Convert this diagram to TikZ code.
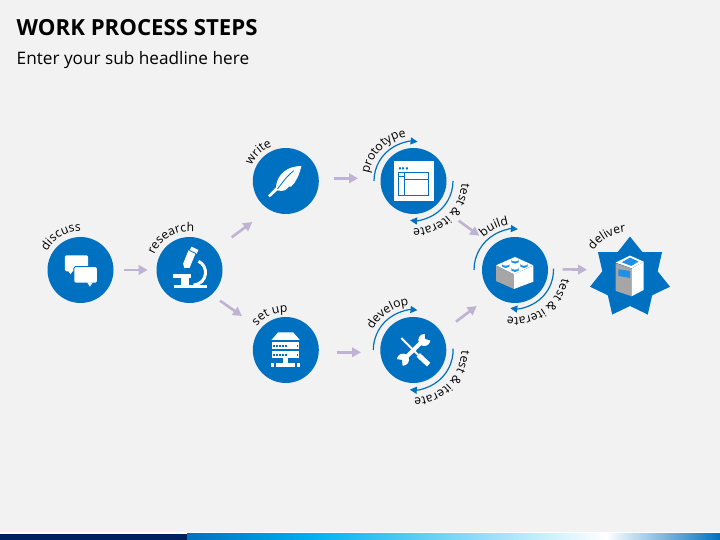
\documentclass[tikz,border=0pt]{standalone}
\usepackage{fontspec}
\setmainfont{Open Sans}
\usetikzlibrary{arrows.meta,shapes.geometric,decorations.text}
\definecolor{bg}{HTML}{F2F2F2}
\definecolor{mainblue}{HTML}{0070C0}
\definecolor{navy}{HTML}{002060}
\definecolor{sky}{HTML}{00B0F0}
\definecolor{lilac}{HTML}{BFB3D3}
\definecolor{stud}{HTML}{1E90E8}
\definecolor{greyface}{HTML}{A6A6A6}
\newcommand{\lblfont}{\fontsize{12.2pt}{14pt}\selectfont}
\newcommand{\arclabel}[5]{\path[decorate,decoration={text along path,text align=center,text={|\lblfont|#5}}] ([shift={(#2:#4)}]#1.center) arc[start angle=#2,end angle=#3,radius=#4];}
\newcommand{\sweeparc}[4]{\draw[sweep] ([shift={(#2:#4)}]#1.center) arc[start angle=#2,end angle=#3,radius=#4];}
\tikzset{
  stepdot/.style={circle,fill=mainblue,minimum size=66pt,inner sep=0pt,draw=none},
  flow/.style={draw=lilac,line width=2.6pt,-{Triangle[length=9pt,width=9.5pt]}},
  sweep/.style={draw=mainblue,line width=1.2pt,-{Triangle[length=7pt,width=7pt]}},
  icon/.style={fill=white,draw=none},
}
\begin{document}
\begin{tikzpicture}[x=1pt,y=1pt]
\useasboundingbox (0,0) rectangle (720,540);
\fill[bg] (0,0) rectangle (720,540);
% bottom band
\fill[white] (0,6.2) rectangle (720,7.6);
\fill[navy] (0,0) rectangle (187,6.4);
\shade[left color=mainblue,right color=sky] (187,0) rectangle (312,6.4);
\shade[left color=sky,right color=white] (312,0) rectangle (606,6.4);
\shade[left color=white,right color=mainblue] (606,0) rectangle (720,6.4);
% titles
\node[anchor=west,inner sep=0pt,font=\fontsize{22.2pt}{26pt}\selectfont\bfseries] (title) at (16.5,512) {WORK PROCESS STEPS};
\node[anchor=west,inner sep=0pt,font=\fontsize{17.2pt}{21pt}\selectfont] (subtitle) at (16.5,480) {Enter your sub headline here};
% nodes
\node[stepdot] (discuss) at (80.5,270) {};
\node[stepdot] (research) at (189.5,270) {};
\node[stepdot] (write) at (285.8,359) {};
\node[stepdot] (prototype) at (413.5,359) {};
\node[stepdot] (setup) at (285.8,190) {};
\node[stepdot] (develop) at (413.3,190) {};
\node[stepdot] (build) at (515,270) {};
\node[star,star points=7,star point ratio=1.445,minimum size=82pt,inner sep=0pt,fill=mainblue] (deliver) at (630,262.4) {};
% connectors
\draw[flow] ([shift={(43.2,0)}]discuss.center) -- ([shift={(-41.8,0)}]research.center);
\draw[flow] ([shift={(42.2,32.7)}]research.center) -- ([shift={(-33.5,-41)}]write.center);
\draw[flow] ([shift={(30.5,-30.7)}]research.center) -- ([shift={(-43.8,34)}]setup.center);
\draw[flow] ([shift={(47.9,2.7)}]write.center) -- ([shift={(-55.5,2.7)}]prototype.center);
\draw[flow] ([shift={(50.9,-2.3)}]setup.center) -- ([shift={(-52.3,-2.3)}]develop.center);
\draw[flow] ([shift={(45.2,-39.7)}]prototype.center) -- ([shift={(-35.7,34.3)}]build.center);
\draw[flow] ([shift={(42.7,28.3)}]develop.center) -- ([shift={(-38.3,-36)}]build.center);
\draw[flow] ([shift={(47.7,0.7)}]build.center) -- ([shift={(-43,7.9)}]deliver.center);
% sweeping arcs
\sweeparc{prototype}{180}{84}{39.5}
\sweeparc{prototype}{0}{-95}{39.5}
\sweeparc{develop}{180}{84}{40}
\sweeparc{develop}{2}{-95}{39.8}
\sweeparc{build}{180}{86}{41}
\sweeparc{build}{2}{-97}{38.5}
% curved labels
\arclabel{discuss}{180}{60}{38.5}{discuss}
\arclabel{research}{190}{50}{38.5}{research}
\arclabel{write}{180}{87}{37.5}{write}
\arclabel{setup}{170}{58}{37.5}{set up}
\arclabel{prototype}{195}{75}{45}{prototype}
\arclabel{develop}{180}{69}{45}{develop}
\arclabel{build}{160}{72}{45.5}{build}
\arclabel{deliver}{172}{67}{45.5}{deliver}
\arclabel{prototype}{30}{-123}{48}{test {\&} iterate}
\arclabel{develop}{30}{-120}{48}{test {\&} iterate}
\arclabel{build}{20}{-130}{47.5}{test {\&} iterate}
% discuss icon
\begin{scope}[shift={(discuss.center)},x=.3333pt,y=-.3333pt,shift={(-152,-209)}]
  \fill[icon,rounded corners=1.5pt] (105,165) rectangle (175,213);
  \fill[icon] (114,210) -- (122,222) -- (130,210) -- cycle;
  \fill[white,draw=mainblue,line width=.9pt,rounded corners=1.5pt] (132,199) rectangle (203,248);
  \fill[icon] (172,246) -- (180,259) -- (189,246) -- cycle;
\end{scope}
% microscope icon
\begin{scope}[shift={(research.center)},x=.3333pt,y=-.3333pt,shift={(-478,-209)}]
  \fill[icon] (432,254) rectangle (530,263);
  \fill[icon] (428,222) rectangle (482,232);
  \fill[icon] (452,232) rectangle (476,255);
  \draw[white,line width=3pt] (505,183) .. controls (535,195) and (535,250) .. (490,254);
  \fill[icon] (475,150) -- (496,160) -- (478,203) -- (462,203) -- (459,190) -- cycle;
  \fill[icon] (484,139) -- (505,149) -- (499,161) -- (478,151) -- cycle;
  \draw[mainblue,line width=.8pt] (478,150) -- (498,160);
\end{scope}
% quill icon
\begin{scope}[shift={(write.center)},x=.3333pt,y=-.3333pt,shift={(-168,-183)}]
  \fill[icon] (215,138) .. controls (175,138) and (142,160) .. (138,203) -- (115,226) -- (120,232) -- (143,211) .. controls (165,216) and (172,208) .. (178,200) -- (184,200) .. controls (200,185) and (208,165) .. (215,138) -- cycle;
  \draw[mainblue,line width=.8pt] (143,207) .. controls (160,185) and (170,170) .. (192,152);
\end{scope}
% window icon
\begin{scope}[shift={(prototype.center)},x=.3333pt,y=-.3333pt,shift={(-551,-183)}]
  \fill[icon] (491,124) rectangle (612,242);
  \fill[mainblue] (507,142) rectangle (513,148) (517,142) rectangle (523,148) (528,142) rectangle (534,148);
  \draw[mainblue,line width=1pt] (506,157) rectangle (596,227) (524,157) -- (524,227) (524,178) -- (596,178) (506,169) -- (524,169);
\end{scope}
% server icon
\begin{scope}[shift={(setup.center)},x=.3333pt,y=-.3333pt,shift={(-168,-180)}]
  \fill[icon] (125,150) -- (145,127) -- (190,127) -- (210,150) -- cycle;
  \fill[icon] (127,155) rectangle (208,177);
  \fill[icon] (127,183) rectangle (208,205);
  \fill[icon] (160,205) rectangle (176,220);
  \fill[icon] (140,218) rectangle (197,232);
  \fill[icon] (125,220) rectangle (133,232);
  \fill[icon] (203,220) rectangle (211,232);
  \foreach \yy in {168,195}{
    \foreach \xx in {133,142,151,160,169,203}{
      \fill[mainblue] (\xx-2,\yy-2) rectangle (\xx+2,\yy+2);
    }
  }
\end{scope}
% tools icon
\begin{scope}[shift={(develop.center)},x=.3333pt,y=-.3333pt,shift={(-550,-180)}]
  \draw[white,line width=2pt] (514,144) -- (565,195);
  \draw[white,line width=5pt] (565,195) -- (596,224);
  \draw[white,line width=4pt] (522,208) -- (580,151);
  \fill[icon] (583,150) circle[radius=6pt];
  \fill[icon] (519,209) circle[radius=6pt];
  \fill[mainblue] (584,127) -- (586,147) -- (604,152) -- (606,130) -- cycle;
  \fill[mainblue] (497,207) -- (516,210) -- (518,231) -- (497,231) -- cycle;
\end{scope}
% brick icon
\begin{scope}[shift={(build.center)},x=.3333pt,y=-.3333pt,shift={(-195,-195)}]
  \fill[icon] (138,181) -- (195,156) -- (250,181) -- (192,208) -- cycle;
  \fill[greyface] (138,182) -- (192,208) -- (192,252) -- (138,228) -- cycle;
  \fill[white] (192,208) -- (250,182) -- (250,230) -- (192,252) -- cycle;
  \foreach \sx/\sy in {195/164,167/177,222/177,195/189}{
    \fill[stud] (\sx-11,\sy) -- (\sx-11,\sy+8) -- (\sx,\sy+12) -- (\sx+11,\sy+8) -- (\sx+11,\sy) -- cycle;
    \fill[white] (\sx,\sy) ellipse[x radius=11,y radius=5];
  }
\end{scope}
% delivered box icon
\begin{scope}[shift={(deliver.center)},x=.3333pt,y=-.3333pt,shift={(-540,-218)}]
  \fill[icon] (497,173) -- (540,152) -- (581,170) -- (545,190) -- cycle;
  \fill[stud] (515,172) -- (540,158) -- (566,170) -- (544,183) -- cycle;
  \fill[greyface] (497,175) -- (545,191) -- (545,274) -- (497,258) -- cycle;
  \fill[white] (545,191) -- (581,170) -- (581,255) -- (545,274) -- cycle;
  \fill[stud] (505,193) -- (540,198) -- (540,219) -- (505,213) -- cycle;
\end{scope}
\end{tikzpicture}
\end{document}
